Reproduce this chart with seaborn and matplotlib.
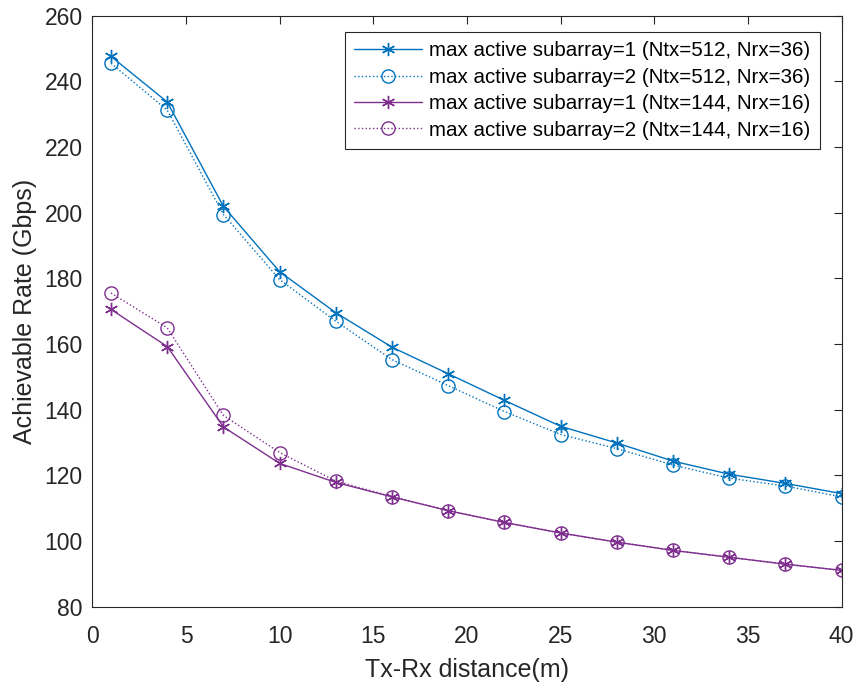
import numpy as np
import pandas as pd
import matplotlib
matplotlib.use("Agg")
import matplotlib.pyplot as plt
import seaborn as sns

# Tx-Rx distance (m)
distance = [1, 4, 7, 10, 13, 16, 19, 22, 25, 28, 31, 34, 37, 40]

# Achievable rate (Gbps) for each configuration
rate_s1_512 = [247.6, 233.7, 201.9, 182.0, 169.5, 159.0, 150.9, 142.8, 134.9, 129.8, 124.3, 120.3, 117.5, 114.4]
rate_s2_512 = [245.5, 231.2, 199.4, 179.6, 166.9, 155.2, 147.3, 139.4, 132.4, 128.1, 123.1, 119.1, 116.7, 113.4]
rate_s1_144 = [170.5, 159.2, 134.7, 123.6, 117.8, 113.4, 109.2, 105.6, 102.4, 99.6, 97.1, 95.0, 92.9, 91.0]
rate_s2_144 = [175.5, 164.9, 138.2, 126.9, 118.2, 113.5, 109.2, 105.6, 102.4, 99.6, 97.1, 95.0, 92.9, 91.0]

series_labels = [
    "max active subarray=1 (Ntx=512, Nrx=36)",
    "max active subarray=2 (Ntx=512, Nrx=36)",
    "max active subarray=1 (Ntx=144, Nrx=16)",
    "max active subarray=2 (Ntx=144, Nrx=16)",
]

x_ticks = [0, 5, 10, 15, 20, 25, 30, 35, 40]
y_ticks = [80, 100, 120, 140, 160, 180, 200, 220, 240, 260]

sns.set_style("white")
plt.rcParams["font.family"] = ["Liberation Sans", "DejaVu Sans"]

blue = "#0072BD"
purple = "#7E2F8E"
axis_grey = "#262626"

styles = [
    dict(color=blue, linestyle="-", marker=(6, 2, 0)),
    dict(color=blue, linestyle=":", marker="o"),
    dict(color=purple, linestyle="-", marker=(6, 2, 0)),
    dict(color=purple, linestyle=":", marker="o"),
]

fig = plt.figure(figsize=(8.57, 6.82), dpi=100)
ax = fig.add_axes([0.1077, 0.1107, 0.8744, 0.8663])

for values, label, st in zip([rate_s1_512, rate_s2_512, rate_s1_144, rate_s2_144], series_labels, styles):
    df = pd.DataFrame({"distance": distance, "rate": values})
    sns.lineplot(
        data=df, x="distance", y="rate", ax=ax, label=label,
        color=st["color"], linestyle=st["linestyle"], linewidth=1.0,
        marker=st["marker"], markersize=9.5,
        markerfacecolor="none", markeredgecolor=st["color"], markeredgewidth=1.0,
    )

ax.set_xlim(0, 40)
ax.set_ylim(80, 260)
ax.set_xticks(x_ticks)
ax.set_yticks(y_ticks)
ax.tick_params(direction="in", length=6, width=0.8, colors=axis_grey,
               labelsize=16.5, top=True, right=True)
ax.tick_params(axis="x", pad=13)
ax.tick_params(axis="y", pad=7)
for sp in ax.spines.values():
    sp.set_color(axis_grey)
    sp.set_linewidth(0.8)

ax.set_xlabel("Tx-Rx distance(m)", fontsize=18, color=axis_grey, labelpad=7.5)
ax.set_ylabel("Achievable Rate (Gbps)", fontsize=18, color=axis_grey, labelpad=5)

leg = ax.legend(loc="upper right", bbox_to_anchor=(0.9707, 0.972), fontsize=14.8,
                frameon=True, fancybox=False, framealpha=1, edgecolor=axis_grey,
                handlelength=3.3, handletextpad=0.35, borderpad=0.45, labelspacing=0.36,
                borderaxespad=0)
leg.get_frame().set_linewidth(0.8)
for t in leg.get_texts():
    t.set_color("black")

fig.savefig("out.png", dpi=100)
